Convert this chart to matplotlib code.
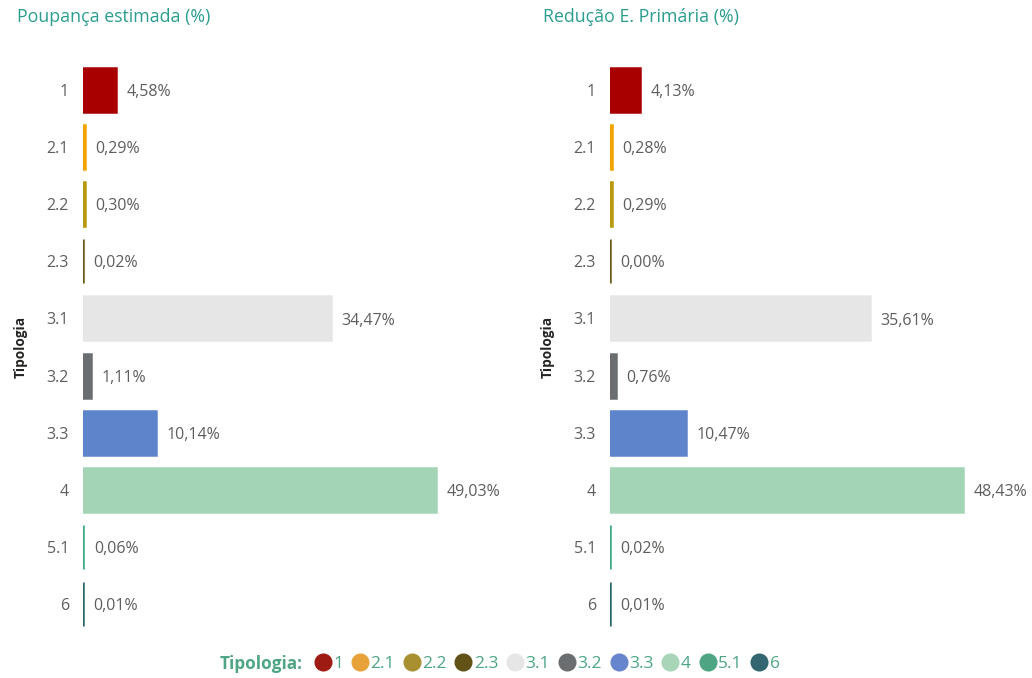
import matplotlib
matplotlib.use("Agg")
import matplotlib.pyplot as plt
from matplotlib.lines import Line2D

categories = ["1", "2.1", "2.2", "2.3", "3.1", "3.2", "3.3", "4", "5.1", "6"]
poupanca = [4.58, 0.29, 0.30, 0.02, 34.47, 1.11, 10.14, 49.03, 0.06, 0.01]
reducao = [4.13, 0.28, 0.29, 0.00, 35.61, 0.76, 10.47, 48.43, 0.02, 0.01]
colors = ["#A80000", "#F2A300", "#B8990F", "#6B5B14", "#E6E6E6",
          "#6B6E70", "#5E84CC", "#A3D4B5", "#3AA882", "#2E6670"]
legend_colors = ["#9E1B14", "#E8A23A", "#A89030", "#635218", "#E6E6E6",
                 "#6B6E70", "#6685CC", "#A8D4B8", "#4DA583", "#336670"]
titles = ["Poupança estimada (%)", "Redução E. Primária (%)"]

plt.rcParams['font.family'] = ['Open Sans', 'DejaVu Sans']
W, H = 1032, 678
fig = plt.figure(figsize=(W / 100, H / 100), dpi=100)

label_col = "#605E5C"
title_col = "#2A9D8F"

def fx(px):
    return px / W

bottom = 1 - 632.7 / H
height = (632.7 - 61.4) / H

panels = [
    (83, 417, 7.2, poupanca, 17),
    (610, 417, 7.29, reducao, 543),
]

for (x0, wpx, scale, vals, tx), title in zip(panels, titles):
    ax = fig.add_axes([fx(x0), bottom, fx(wpx), height])
    y = list(range(len(categories)))
    ax.barh(y, vals, height=0.77, color=colors, edgecolor=colors, linewidth=1.8)
    ax.set_xlim(0, wpx / scale)
    ax.set_ylim(len(categories) - 0.5, -0.5)
    ax.set_yticks(y)
    ax.set_yticklabels(categories, fontsize=11.5, color=label_col)
    ax.tick_params(axis='y', length=0, pad=10)
    ax.set_xticks([])
    for s in ax.spines.values():
        s.set_visible(False)
    for yi, v in zip(y, vals):
        ax.annotate(f"{v:.2f}%".replace(".", ","), xy=(v, yi), xytext=(7.5, -1.5),
                    textcoords="offset points", va="center", ha="left",
                    fontsize=11.5, color=label_col)
    ax.set_ylabel("Tipologia", fontsize=9.8, fontweight="bold", color="#252423",
                  labelpad=14)
    fig.text(fx(tx), 1 - 17 / H, title, fontsize=12.8, color=title_col,
             ha="left", va="center")

fig.text(fx(220), 1 - 664 / H, "Tipologia:", fontsize=12.3, fontweight="bold",
         color="#4DA583", ha="left", va="center")
handles = [Line2D([0], [0], marker="o", linestyle="", markersize=12,
                  markerfacecolor=c, markeredgecolor=c) for c in legend_colors]
fig.legend(handles, categories, loc="center left",
           bbox_to_anchor=(fx(313), 1 - 664 / H), ncol=10, frameon=False,
           handlelength=1.1, handletextpad=0.05, columnspacing=0.42,
           fontsize=12.5, labelcolor="#4DA583", borderaxespad=0, borderpad=0)

fig.savefig("out.png", dpi=100)
